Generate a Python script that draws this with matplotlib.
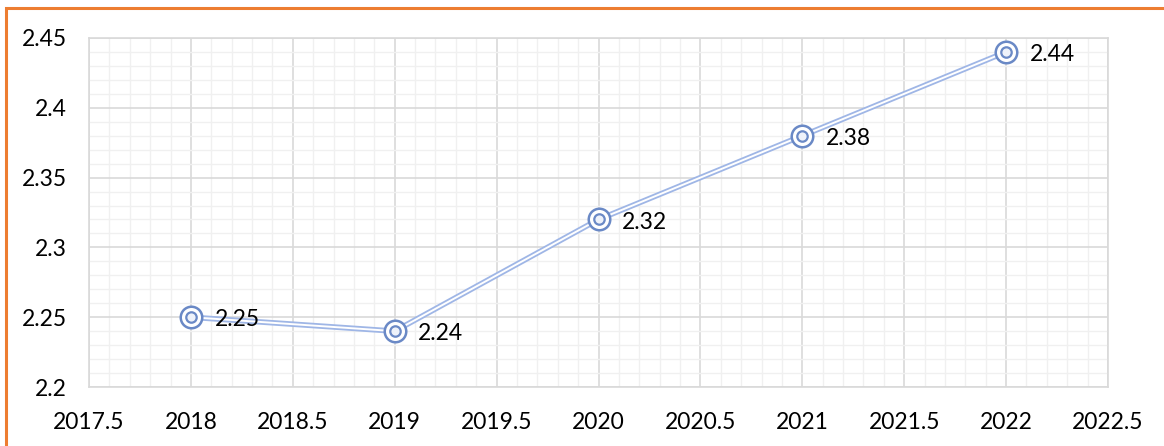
import matplotlib
matplotlib.use("Agg")
import matplotlib.pyplot as plt
from matplotlib.patches import Rectangle
from matplotlib.ticker import MultipleLocator

years = [2018, 2019, 2020, 2021, 2022]
values = [2.25, 2.24, 2.32, 2.38, 2.44]
labels = ["2.25", "2.24", "2.32", "2.38", "2.44"]

W, H, DPI = 1164, 446, 100
fig = plt.figure(figsize=(W / DPI, H / DPI), dpi=DPI)
plt.rcParams["font.family"] = ["Lato", "DejaVu Sans"]
FS = 16.5

# plot area in pixels
left, right, top, bottom = 89, 1108, 38, 387
ax = fig.add_axes([left / W, 1 - bottom / H, (right - left) / W, (bottom - top) / H])

ax.set_xlim(2017.5, 2022.5)
ax.set_ylim(2.2, 2.45)
ax.xaxis.set_major_locator(MultipleLocator(0.5))
ax.xaxis.set_minor_locator(MultipleLocator(0.1))
ax.yaxis.set_major_locator(MultipleLocator(0.05))
ax.yaxis.set_minor_locator(MultipleLocator(0.01))
ax.set_xticks([2017.5, 2018, 2018.5, 2019, 2019.5, 2020, 2020.5, 2021, 2021.5, 2022, 2022.5])
ax.set_xticklabels(["2017.5", "2018", "2018.5", "2019", "2019.5", "2020", "2020.5",
                    "2021", "2021.5", "2022", "2022.5"])
ax.set_yticks([2.2, 2.25, 2.3, 2.35, 2.4, 2.45])
ax.set_yticklabels(["2.2", "2.25", "2.3", "2.35", "2.4", "2.45"])

ax.grid(which="major", color="#d9d9d9", linewidth=1.2)
ax.grid(which="minor", color="#f0f0f0", linewidth=1.0)
ax.set_axisbelow(True)
for s in ax.spines.values():
    s.set_color("#d9d9d9")
    s.set_linewidth(1.2)
ax.tick_params(which="both", length=0, labelsize=FS, colors="#000000")
ax.tick_params(axis="x", pad=18)
ax.tick_params(axis="y", pad=16)

# double-stroke line: wide light blue with white core
ax.plot(years, values, color="#9fb6e6", linewidth=4.0, solid_capstyle="round", zorder=3)
ax.plot(years, values, color="white", linewidth=1.4, solid_capstyle="round", zorder=4)

# concentric ring markers
ax.plot(years, values, linestyle="none", marker="o", markersize=15.5,
        markerfacecolor="white", markeredgecolor="#6a89c6", markeredgewidth=1.8, zorder=5)
ax.plot(years, values, linestyle="none", marker="o", markersize=7.5,
        markerfacecolor="#eef2fa", markeredgecolor="#6a89c6", markeredgewidth=1.6, zorder=6)

for x, y, t in zip(years, values, labels):
    ax.annotate(t, (x, y), xytext=(17, -2), textcoords="offset points",
                ha="left", va="center", fontsize=FS, color="#000000", zorder=7)

# orange frame around the chart
fig.patches.append(Rectangle((6 / W, -0.1), 2, 1 - 8 / H + 0.1, transform=fig.transFigure,
                             fill=False, edgecolor="#ed7d31", linewidth=2.2))

fig.savefig("out.png", dpi=DPI)
